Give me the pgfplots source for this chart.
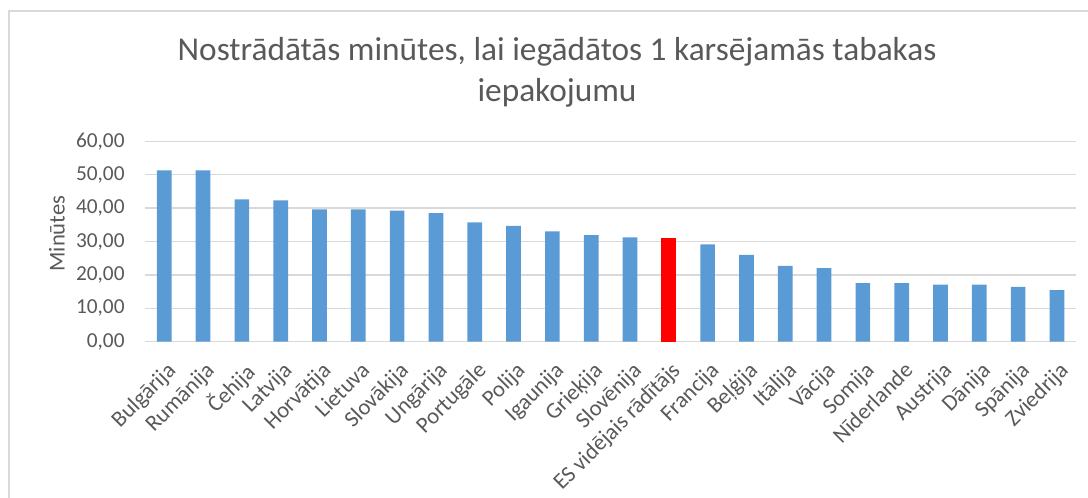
\documentclass[border=0pt]{standalone}
\usepackage{pgfplots}
\pgfplotsset{compat=1.18}
\usepackage{fontspec}
\setmainfont{Carlito}
\definecolor{txt}{HTML}{595959}
\definecolor{grd}{HTML}{D9D9D9}
\definecolor{barblue}{HTML}{5B9BD5}
\begin{document}
\begin{tikzpicture}[x=1pt,y=1pt]
\path[use as bounding box] (0,0) rectangle (816,372.75);
\draw[grd,line width=1.5pt] (6.4,-2) -- (6.4,364.5) -- (820,364.5);
\node[txt,font=\fontsize{25}{30}\selectfont] at (417.75,333.75) {Nostrādātās minūtes, lai iegādātos 1 karsējamās tabakas};
\node[txt,font=\fontsize{25}{30}\selectfont] at (417.75,303) {iepakojumu};
\node[txt,font=\fontsize{17}{20}\selectfont,rotate=90] at (42.75,197.6) {Minūtes};
\begin{axis}[
  at={(123.2pt,116.5pt)}, anchor=origin,
  scale only axis, width=698.6pt, height=150.3pt,
  xmin=-0.5, xmax=23.5, ymin=0, ymax=60,
  ytick={0,10,20,30,40,50,60},
  xtick={0,...,23},
  xticklabels={Bulgārija,Rumānija,Čehija,Latvija,Horvātija,Lietuva,Slovākija,Ungārija,Portugāle,Polija,Igaunija,Grieķija,Slovēnija,ES vidējais rādītājs,Francija,Beļģija,Itālija,Vācija,Somija,Nīderlande,Austrija,Dānija,Spānija,Zviedrija},
  ymajorgrids, grid style={grd,line width=1.1pt},
  axis x line*=bottom, axis y line*=left,
  x axis line style={grd,line width=1.1pt,-},
  y axis line style={draw=none},
  major tick length=0pt,
  tick label style={txt},
  xticklabel style={font=\fontsize{17}{20}\selectfont,xshift=1pt,yshift=-14pt,rotate=45,anchor=north east,inner sep=0pt},
  yticklabel style={font=\fontsize{16}{19}\selectfont,anchor=east,inner sep=0pt,xshift=-15pt},
  /pgf/number format/.cd, assume math mode=true, use comma, fixed, fixed zerofill, precision=2,
]
\addplot[ybar, bar width=11pt, fill=barblue, draw=none, bar shift=0pt] coordinates {
(0,51.3) (1,51.3) (2,42.6) (3,42.3) (4,39.6) (5,39.6) (6,39.2) (7,38.5) (8,35.7) (9,34.7)
(10,33.0) (11,31.9) (12,31.2) (14,29.1) (15,26.0) (16,22.7) (17,22.0) (18,17.5) (19,17.5)
(20,17.1) (21,17.1) (22,16.4) (23,15.4)};
\addplot[ybar, bar width=11pt, fill=red, draw=none, bar shift=0pt] coordinates {(13,30.9)};
\end{axis}
\end{tikzpicture}
\end{document}
